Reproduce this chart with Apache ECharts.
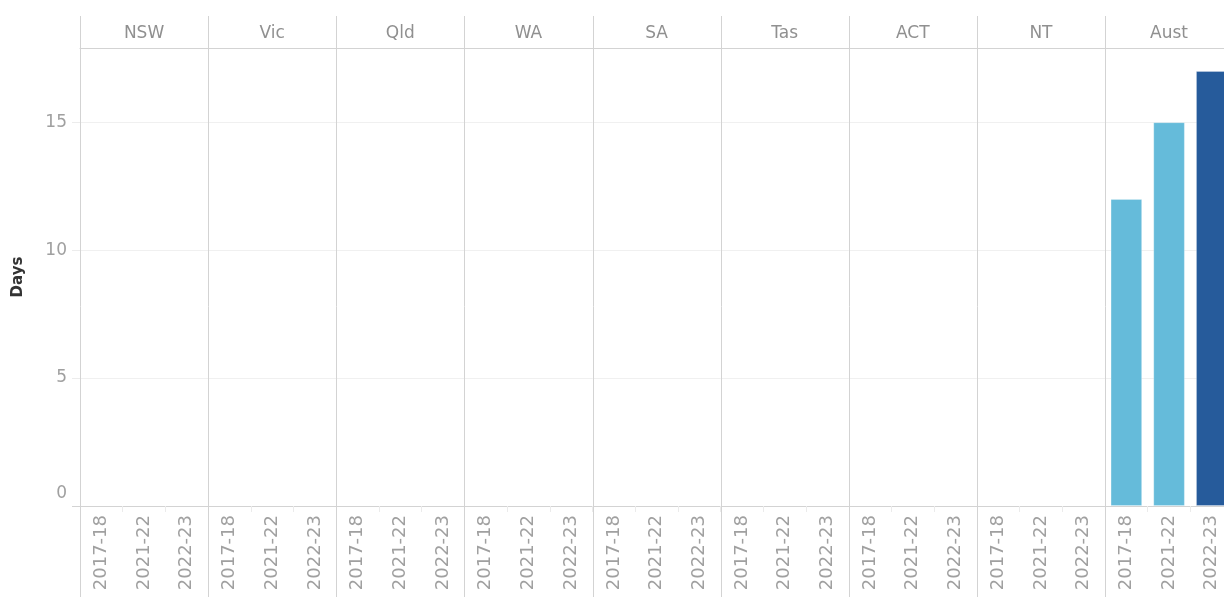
<!DOCTYPE html>
<html>
<head>
<meta charset="utf-8">
<script src="https://cdn.jsdelivr.net/npm/echarts@6/dist/echarts.min.js"></script>
<style>
html,body{margin:0;padding:0;background:#fff;overflow:hidden;}
#chart{width:1240px;height:597px;}
</style>
</head>
<body>
<div id="chart"></div>
<script>
// ---- data ----
const states = ['NSW', 'Vic', 'Qld', 'WA', 'SA', 'Tas', 'ACT', 'NT', 'Aust'];
const years = ['2017-18', '2021-22', '2022-23'];
const nswDays = [null, null, null];
const vicDays = [null, null, null];
const qldDays = [null, null, null];
const waDays = [null, null, null];
const saDays = [null, null, null];
const tasDays = [null, null, null];
const actDays = [null, null, null];
const ntDays = [null, null, null];
const austDays = [12, 15, 17];
const yTicks = [0, 5, 10, 15];
const yAxisTitle = 'Days';

// ---- layout / style ----
const panelValues = [nswDays, vicDays, qldDays, waDays, saDays, tasDays, actDays, ntDays, austDays];
const yearColors = ['#65bbda', '#65bbda', '#265b9b'];
const left0 = 80, panelW = (1105 - 80) / 8, gridTop = 48, gridBottomY = 506;
const font = 'DejaVu Sans';
const lineCol = '#d3d3d3';

const grids = [], xAxes = [], yAxes = [], series = [], graphics = [];
states.forEach((st, i) => {
  grids.push({left: left0 + i * panelW, top: gridTop, width: panelW, height: gridBottomY - gridTop, containLabel: false});
});
states.forEach((st, i) => {
  xAxes.push({
    type: 'category', gridIndex: i, data: years, position: 'bottom',
    axisLine: {show: true, lineStyle: {color: lineCol, width: 1}},
    axisTick: {show: true, length: 6, lineStyle: {color: '#ebebeb'}},
    axisLabel: {rotate: 90, margin: 9, color: '#a0a0a0', fontFamily: font, fontSize: 18, interval: 0},
    splitLine: {show: false}
  });
});
states.forEach((st, i) => {
  xAxes.push({
    type: 'category', gridIndex: i, data: [st], position: 'top',
    axisLine: {show: true, lineStyle: {color: lineCol, width: 1}},
    axisTick: {show: false},
    axisLabel: {margin: 6, color: '#909090', fontFamily: font, fontSize: 17, interval: 0}
  });
});
states.forEach((st, i) => {
  yAxes.push({
    type: 'value', gridIndex: i, min: 0, max: 17.9, interval: 5,
    name: i === 0 ? yAxisTitle : '',
    nameLocation: 'middle', nameGap: 54,
    nameTextStyle: {color: '#333', fontFamily: font, fontSize: 15, fontWeight: 'bold'},
    axisLine: {show: false},
    axisTick: {show: i === 0, length: 8, lineStyle: {color: '#ececec'}},
    axisLabel: {
      show: i === 0, margin: 13, color: '#a0a0a0', fontFamily: font, fontSize: 17,
      showMaxLabel: false,
      formatter: v => yTicks.indexOf(v) < 0 ? '' : (v === 0 ? '{z|0}' : String(v)),
      rich: {z: {color: '#a0a0a0', fontFamily: font, fontSize: 17, padding: [0, 0, 24, 0]}}
    },
    splitLine: {show: true, lineStyle: {color: '#f0f0f0', width: 1}}
  });
  series.push({
    type: 'bar', xAxisIndex: i, yAxisIndex: i, barCategoryGap: '26%',
    data: panelValues[i].map((v, j) => ({value: v, itemStyle: {color: yearColors[j]}})),
    itemStyle: {borderColor: 'rgba(255,255,255,0.25)', borderWidth: 1},
    silent: true
  });
});
for (let i = 0; i <= states.length; i++) {
  const x = Math.round(left0 + i * panelW) + 0.5;
  graphics.push({type: 'line', shape: {x1: x, y1: 16, x2: x, y2: 597}, style: {stroke: lineCol, lineWidth: 1}, z: 10});
}
graphics.push({type: 'line', shape: {x1: 72, y1: gridBottomY + 0.5, x2: left0, y2: gridBottomY + 0.5}, style: {stroke: lineCol, lineWidth: 1}, z: 10});

const chart = echarts.init(document.getElementById('chart'), null, {renderer: 'canvas'});
chart.setOption({
  animation: false,
  backgroundColor: '#fff',
  grid: grids, xAxis: xAxes, yAxis: yAxes, series: series,
  graphic: graphics
});
</script>
</body>
</html>
